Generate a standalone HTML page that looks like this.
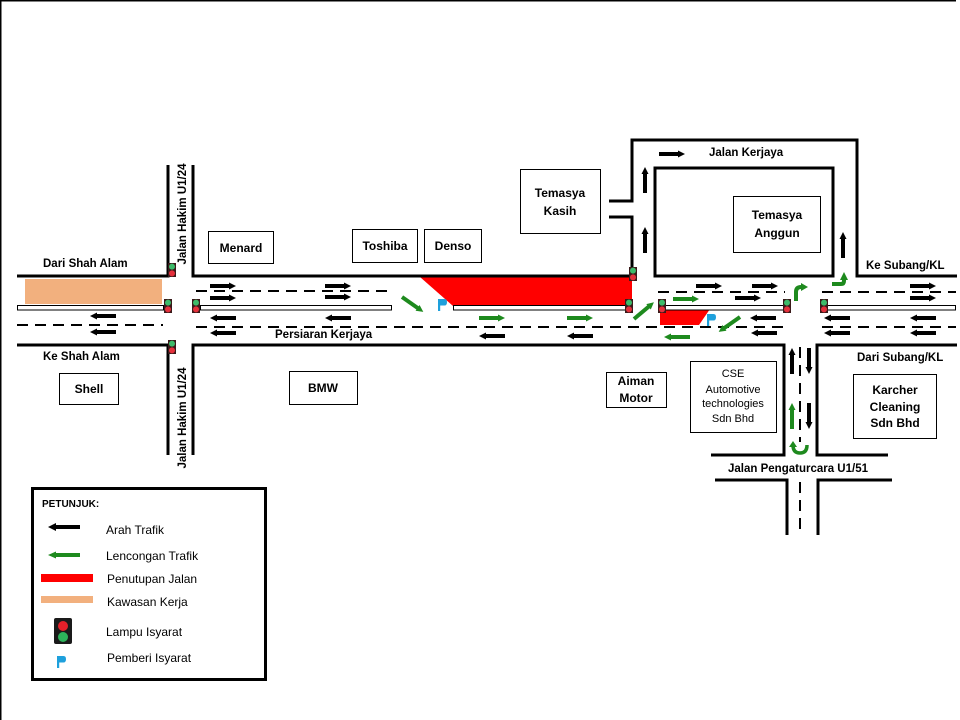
<!DOCTYPE html>
<html><head><meta charset="utf-8"><style>
html,body{margin:0;padding:0;background:#fff;}
svg{display:block;}
text{font-family:"Liberation Sans",Arial,sans-serif;fill:#000;}
</style></head><body>
<svg width="960" height="720" viewBox="0 0 960 720" xmlns="http://www.w3.org/2000/svg">
<defs>
<g id="ra" fill="#000"><rect x="0" y="-2" width="20" height="4"/><polygon points="19,-3.5 26,0 19,3.5"/></g>
<g id="ga" fill="#1e8a1e"><rect x="0" y="-2" width="20" height="4"/><polygon points="19,-3.5 26,0 19,3.5"/></g>
<g id="sig"><rect x="0" y="0" width="8" height="14" fill="#3a1a1a"/><circle cx="4" cy="3.6" r="3" fill="#3dbb6a"/><circle cx="4" cy="10.4" r="3" fill="#e5303c"/></g>
<g id="flag"><rect x="0" y="0" width="2.2" height="12" fill="#1ea0dc"/><path d="M0,0 H6.5 Q9,0 9,3.2 Q9,6.5 6.5,6.5 H0Z" fill="#1ea0dc"/></g>
</defs>

<!-- page border -->
<rect x="0" y="0" width="956" height="1.5" fill="#000"/>
<rect x="0" y="0" width="1.5" height="720" fill="#000"/>

<!-- work zone & closures -->
<rect x="25" y="279" width="137" height="25" fill="#f2b07e"/>
<polygon points="420,277 632,277 632,306 453,306" fill="#ff0000"/>
<polygon points="660,309 710,309 699,325 660,325" fill="#ff0000"/>

<!-- dashed lane lines -->
<g stroke="#000" stroke-width="2" stroke-dasharray="11 7" fill="none">
<line x1="17" y1="325" x2="163" y2="325"/>
<line x1="196" y1="291" x2="392" y2="291"/>
<line x1="196" y1="327" x2="785" y2="327"/>
<line x1="658" y1="292" x2="785" y2="292"/>
<line x1="822" y1="292" x2="956" y2="292"/>
<line x1="822" y1="327" x2="956" y2="327"/>
<line x1="800" y1="347" x2="800" y2="442"/>
<line x1="800" y1="482" x2="800" y2="535"/>
</g>

<!-- medians -->
<g fill="#fff" stroke="#000" stroke-width="1">
<rect x="17.5" y="305.5" width="146" height="4.5"/>
<rect x="200.5" y="305.5" width="191" height="4.5"/>
<rect x="453.5" y="305.5" width="174" height="4.5"/>
<rect x="665.5" y="305.5" width="119" height="4.5"/>
<rect x="827.5" y="305.5" width="128" height="4.5"/>
</g>

<!-- road edges -->
<g stroke="#000" stroke-width="3" fill="none">
<path d="M17,276 H168 V165"/>
<path d="M193,165 V276 H632 V217 H609"/>
<path d="M609,201 H632 V140 H857 V276 H957"/>
<rect x="655" y="168" width="178" height="108"/>
<path d="M17,345 H168 V455"/>
<path d="M193,455 V345 H784 V455 H711"/>
<path d="M888,455 H817 V345 H957"/>
<path d="M715,480 H787 V535"/>
<path d="M892,480 H818 V535"/>
</g>

<!-- black arrows -->
<use href="#ra" transform="translate(116,316) scale(-1,1)"/>
<use href="#ra" transform="translate(116,332) scale(-1,1)"/>
<use href="#ra" transform="translate(210,286)"/>
<use href="#ra" transform="translate(210,298)"/>
<use href="#ra" transform="translate(236,318) scale(-1,1)"/>
<use href="#ra" transform="translate(236,333) scale(-1,1)"/>
<use href="#ra" transform="translate(325,286)"/>
<use href="#ra" transform="translate(325,297)"/>
<use href="#ra" transform="translate(351,318) scale(-1,1)"/>
<use href="#ra" transform="translate(505,336) scale(-1,1)"/>
<use href="#ra" transform="translate(593,336) scale(-1,1)"/>
<use href="#ra" transform="translate(696,286)"/>
<use href="#ra" transform="translate(752,286)"/>
<use href="#ra" transform="translate(735,298)"/>
<use href="#ra" transform="translate(776,318) scale(-1,1)"/>
<use href="#ra" transform="translate(777,333) scale(-1,1)"/>
<use href="#ra" transform="translate(850,318) scale(-1,1)"/>
<use href="#ra" transform="translate(850,333) scale(-1,1)"/>
<use href="#ra" transform="translate(936,318) scale(-1,1)"/>
<use href="#ra" transform="translate(936,333) scale(-1,1)"/>
<use href="#ra" transform="translate(910,286)"/>
<use href="#ra" transform="translate(910,298)"/>
<use href="#ra" transform="translate(659,154)"/>
<use href="#ra" transform="translate(645,193) rotate(-90)"/>
<use href="#ra" transform="translate(645,253) rotate(-90)"/>
<use href="#ra" transform="translate(843,258) rotate(-90)"/>
<use href="#ra" transform="translate(792,374) rotate(-90)"/>
<use href="#ra" transform="translate(809,348) rotate(90)"/>
<use href="#ra" transform="translate(809,403) rotate(90)"/>

<!-- green arrows -->
<use href="#ga" transform="translate(402,297) rotate(35)"/>
<use href="#ga" transform="translate(479,318)"/>
<use href="#ga" transform="translate(567,318)"/>
<use href="#ga" transform="translate(634,319) rotate(-40)"/>
<use href="#ga" transform="translate(673,299)"/>
<use href="#ga" transform="translate(690,337) scale(-1,1)"/>
<use href="#ga" transform="translate(740,317) rotate(145)"/>
<use href="#ga" transform="translate(792,429) rotate(-90)"/>
<!-- turn arrows -->
<path d="M796,301 V292 Q796,287 801,287 H802" stroke="#1e8a1e" stroke-width="4" fill="none"/>
<polygon points="801,283 808,287 801,291" fill="#1e8a1e"/>
<path d="M832,284 H841 Q844,284 844,281 V279" stroke="#1e8a1e" stroke-width="4" fill="none"/>
<polygon points="840,280 844,272 848,280" fill="#1e8a1e"/>
<path d="M793,445 Q793,453 800,453 Q807,453 807,445" stroke="#1e8a1e" stroke-width="3.5" fill="none"/>
<polygon points="789,447 793,441 797,447" fill="#1e8a1e"/>

<!-- signals -->
<use href="#sig" x="168" y="263"/>
<use href="#sig" x="164" y="299"/>
<use href="#sig" x="168" y="340"/>
<use href="#sig" x="192" y="299"/>
<use href="#sig" x="629" y="267"/>
<use href="#sig" x="625" y="299"/>
<use href="#sig" x="658" y="299"/>
<use href="#sig" x="783" y="299"/>
<use href="#sig" x="820" y="299"/>

<!-- flags -->
<use href="#flag" x="438" y="299"/>
<use href="#flag" x="707" y="314"/>

<!-- boxes -->
<g fill="#fff" stroke="#000" stroke-width="1">
<rect x="208.5" y="231.5" width="65" height="32"/>
<rect x="352.5" y="229.5" width="65" height="33"/>
<rect x="424.5" y="229.5" width="57" height="33"/>
<rect x="59.5" y="373.5" width="59" height="31"/>
<rect x="289.5" y="371.5" width="68" height="33"/>
<rect x="520.5" y="169.5" width="80" height="64"/>
<rect x="733.5" y="196.5" width="87" height="56"/>
<rect x="606.5" y="372.5" width="60" height="35"/>
<rect x="690.5" y="361.5" width="86" height="71"/>
<rect x="853.5" y="374.5" width="83" height="64"/>
</g>

<!-- box labels -->
<g font-size="12" font-weight="bold" text-anchor="middle">
<text x="241" y="252">Menard</text>
<text x="385" y="250">Toshiba</text>
<text x="453" y="250">Denso</text>
<text x="89" y="393">Shell</text>
<text x="323" y="392">BMW</text>
<text x="560" y="197">Temasya</text>
<text x="560" y="215">Kasih</text>
<text x="777" y="219">Temasya</text>
<text x="777" y="237">Anggun</text>
<text x="636" y="385">Aiman</text>
<text x="636" y="402">Motor</text>
<text x="895" y="394">Karcher</text>
<text x="895" y="411">Cleaning</text>
<text x="895" y="427">Sdn Bhd</text>
</g>
<g font-size="11" text-anchor="middle">
<text x="733" y="377">CSE</text>
<text x="733" y="393">Automotive</text>
<text x="733" y="407">technologies</text>
<text x="733" y="422">Sdn Bhd</text>
</g>

<!-- road labels -->
<g font-size="11.5" font-weight="bold">
<text x="43" y="267">Dari  Shah Alam</text>
<text x="43" y="360">Ke  Shah Alam</text>
<text x="275" y="338">Persiaran Kerjaya</text>
<text x="709" y="156">Jalan Kerjaya</text>
<text x="866" y="269">Ke  Subang/KL</text>
<text x="857" y="361">Dari  Subang/KL</text>
<text x="728" y="472">Jalan Pengaturcara U1/51</text>
<text x="0" y="0" text-anchor="middle" transform="translate(186,214) rotate(-90)">Jalan Hakim U1/24</text>
<text x="0" y="0" text-anchor="middle" transform="translate(186,418) rotate(-90)">Jalan Hakim U1/24</text>
</g>

<!-- legend -->
<rect x="32.5" y="488.5" width="233" height="191" fill="#fff" stroke="#000" stroke-width="3"/>
<text x="42" y="507" font-size="10" font-weight="bold">PETUNJUK:</text>
<rect x="55" y="525" width="25" height="4" fill="#000"/>
<polygon points="48,527 56,523 56,531" fill="#000"/>
<rect x="55" y="553" width="25" height="4" fill="#1e8a1e"/>
<polygon points="48,555 56,551.5 56,558.5" fill="#1e8a1e"/>
<rect x="41" y="574" width="52" height="8" fill="#ff0000"/>
<rect x="41" y="596" width="52" height="7" fill="#f2b07e"/>
<rect x="54" y="618" width="18" height="26" rx="2" fill="#1a1a1a"/>
<circle cx="63" cy="626" r="5" fill="#e5202a"/>
<circle cx="63" cy="637" r="5" fill="#2db35a"/>
<use href="#flag" x="57" y="656"/>
<g font-size="12">
<text x="106" y="534">Arah Trafik</text>
<text x="106" y="560">Lencongan Trafik</text>
<text x="107" y="583">Penutupan Jalan</text>
<text x="107" y="606">Kawasan Kerja</text>
<text x="106" y="636">Lampu Isyarat</text>
<text x="107" y="662">Pemberi Isyarat</text>
</g>
</svg>
</body></html>
